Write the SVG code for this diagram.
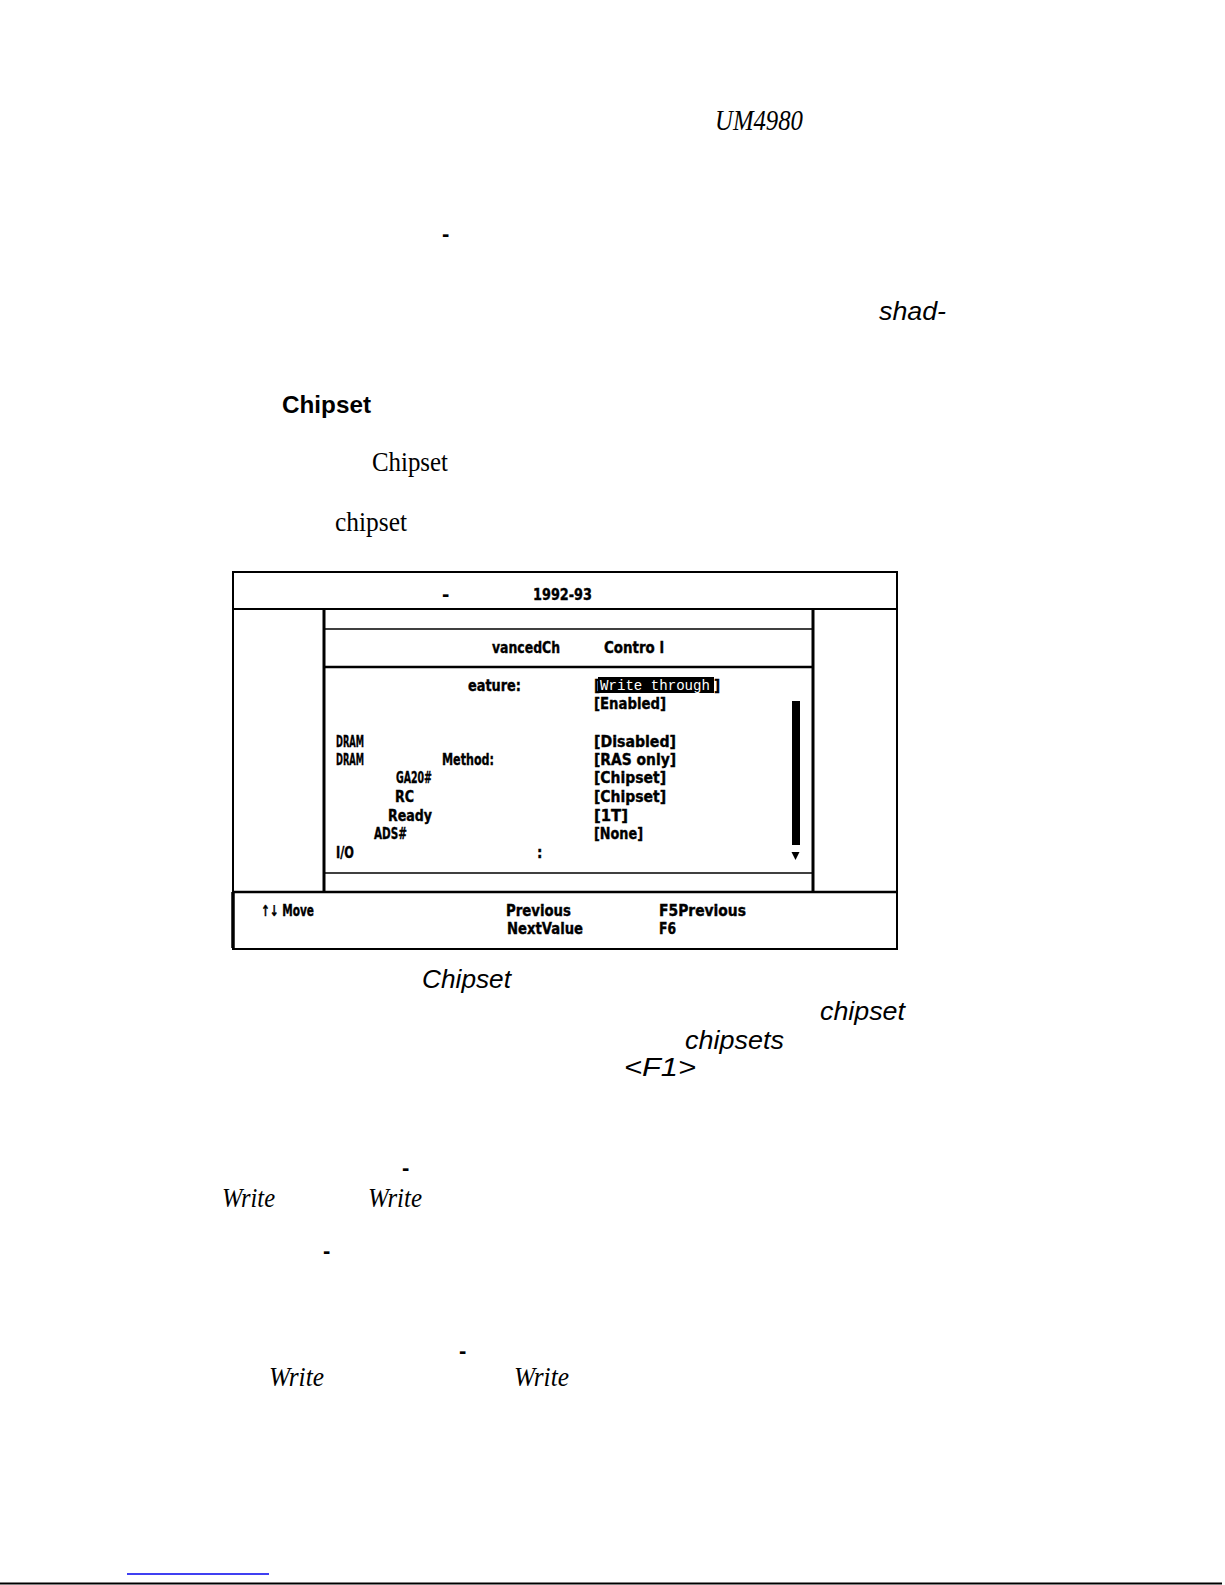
<svg xmlns="http://www.w3.org/2000/svg" width="1225" height="1585" viewBox="0 0 1225 1585">
<style>
.serifI{font-family:"Liberation Serif","DejaVu Serif",serif;font-style:italic;}
.serif{font-family:"Liberation Serif","DejaVu Serif",serif;}
.sansI{font-family:"Liberation Sans","DejaVu Sans",sans-serif;font-style:italic;}
.sansB{font-family:"Liberation Sans","DejaVu Sans",sans-serif;font-weight:bold;}
.dash{font-family:"Liberation Sans",sans-serif;font-weight:bold;font-size:22px;fill:#000;}
.scr{font-family:"DejaVu Sans Condensed","Liberation Sans Narrow","Liberation Sans",sans-serif;font-weight:bold;font-size:15px;fill:#000;stroke:#000;stroke-width:0.35;}
.ln{stroke:#000;fill:none;}
</style>
<rect width="1225" height="1585" fill="#fff"/>

<g id="page-text">
<text class="serifI" x="715" y="130" font-size="30" textLength="88" lengthAdjust="spacingAndGlyphs">UM4980</text>
<text class="dash" x="442" y="241">-</text>
<text class="sansI" x="879" y="320" font-size="26" textLength="67" lengthAdjust="spacingAndGlyphs">shad-</text>
<text class="sansB" x="282" y="413" font-size="24" textLength="89" lengthAdjust="spacingAndGlyphs">Chipset</text>
<text class="serif" x="372" y="471" font-size="28" textLength="76" lengthAdjust="spacingAndGlyphs">Chipset</text>
<text class="serif" x="335" y="531" font-size="28" textLength="72" lengthAdjust="spacingAndGlyphs">chipset</text>
<text class="sansI" x="422" y="988" font-size="25" textLength="89" lengthAdjust="spacingAndGlyphs">Chipset</text>
<text class="sansI" x="820" y="1020" font-size="25" textLength="85" lengthAdjust="spacingAndGlyphs">chipset</text>
<text class="sansI" x="685" y="1049" font-size="25" textLength="99" lengthAdjust="spacingAndGlyphs">chipsets</text>
<text class="sansI" x="624" y="1076" font-size="25" textLength="72" lengthAdjust="spacingAndGlyphs">&lt;F1&gt;</text>
<text class="dash" x="402" y="1175">-</text>
<text class="serifI" x="222" y="1207" font-size="28" textLength="53" lengthAdjust="spacingAndGlyphs">Write</text>
<text class="serifI" x="368" y="1207" font-size="28" textLength="54" lengthAdjust="spacingAndGlyphs">Write</text>
<text class="dash" x="323" y="1258">-</text>
<text class="dash" x="459" y="1358">-</text>
<text class="serifI" x="269" y="1386" font-size="28" textLength="55" lengthAdjust="spacingAndGlyphs">Write</text>
<text class="serifI" x="514" y="1386" font-size="28" textLength="55" lengthAdjust="spacingAndGlyphs">Write</text>
</g>

<g id="screen">
<rect class="ln" x="233" y="572" width="664" height="377" stroke-width="2"/>
<line class="ln" x1="233" y1="609" x2="897" y2="609" stroke-width="2"/>
<line class="ln" x1="324" y1="609" x2="324" y2="892" stroke-width="3"/>
<line class="ln" x1="813" y1="609" x2="813" y2="892" stroke-width="3"/>
<line class="ln" x1="324" y1="629" x2="813" y2="629" stroke-width="1.5"/>
<line class="ln" x1="324" y1="667" x2="813" y2="667" stroke-width="2.5"/>
<line class="ln" x1="324" y1="873" x2="813" y2="873" stroke-width="1.5"/>
<line class="ln" x1="233" y1="892" x2="897" y2="892" stroke-width="2.5"/>
<line class="ln" x1="233" y1="892" x2="233" y2="948" stroke-width="3.5"/>

<text class="dash" x="442" y="601">-</text>
<text class="scr" x="533" y="600" textLength="59" lengthAdjust="spacingAndGlyphs">1992-93</text>
<text class="scr" x="492" y="653" textLength="68" lengthAdjust="spacingAndGlyphs">vancedCh</text>
<text class="scr" x="604" y="653" textLength="60" lengthAdjust="spacingAndGlyphs">Contro l</text>

<text class="scr" x="468" y="691" textLength="53" lengthAdjust="spacingAndGlyphs">eature:</text>
<rect x="598" y="677" width="116" height="16" fill="#000"/>
<text class="scr" x="594" y="691">[</text>
<text x="600" y="690" font-family="Liberation Mono,DejaVu Sans Mono,monospace" font-size="14" fill="#fff" textLength="110" lengthAdjust="spacingAndGlyphs">Write through</text>
<text class="scr" x="714" y="691">]</text>
<text class="scr" x="594" y="709" textLength="72" lengthAdjust="spacingAndGlyphs">[Enabled]</text>

<rect x="792" y="701" width="8" height="144" fill="#000"/>
<path d="M791.5 852 L799.5 852 L795.5 860 Z" fill="#000"/>

<text class="scr" x="336" y="747" textLength="28" lengthAdjust="spacingAndGlyphs">DRAM</text>
<text class="scr" x="594" y="747" textLength="82" lengthAdjust="spacingAndGlyphs">[Disabled]</text>
<text class="scr" x="336" y="765" textLength="28" lengthAdjust="spacingAndGlyphs">DRAM</text>
<text class="scr" x="442" y="765" textLength="52" lengthAdjust="spacingAndGlyphs">Method:</text>
<text class="scr" x="594" y="765" textLength="82" lengthAdjust="spacingAndGlyphs">[RAS only]</text>
<text class="scr" x="396" y="783" textLength="36" lengthAdjust="spacingAndGlyphs">GA20#</text>
<text class="scr" x="594" y="783" textLength="72" lengthAdjust="spacingAndGlyphs">[Chipset]</text>
<text class="scr" x="395" y="802" textLength="19" lengthAdjust="spacingAndGlyphs">RC</text>
<text class="scr" x="594" y="802" textLength="72" lengthAdjust="spacingAndGlyphs">[Chipset]</text>
<text class="scr" x="388" y="821" textLength="44" lengthAdjust="spacingAndGlyphs">Ready</text>
<text class="scr" x="594" y="821" textLength="34" lengthAdjust="spacingAndGlyphs">[1T]</text>
<text class="scr" x="374" y="839" textLength="33" lengthAdjust="spacingAndGlyphs">ADS#</text>
<text class="scr" x="594" y="839" textLength="49" lengthAdjust="spacingAndGlyphs">[None]</text>
<text class="scr" x="336" y="858" textLength="18" lengthAdjust="spacingAndGlyphs">I/O</text>
<text class="scr" x="537" y="858">:</text>

<text class="scr" x="261" y="916" textLength="53" lengthAdjust="spacingAndGlyphs">↑↓ Move</text>
<text class="scr" x="506" y="916" textLength="65" lengthAdjust="spacingAndGlyphs">Previous</text>
<text class="scr" x="659" y="916" textLength="87" lengthAdjust="spacingAndGlyphs">F5Previous</text>
<text class="scr" x="507" y="934" textLength="76" lengthAdjust="spacingAndGlyphs">NextValue</text>
<text class="scr" x="659" y="934" textLength="17" lengthAdjust="spacingAndGlyphs">F6</text>
</g>

<g id="footer">
<line x1="127" y1="1574" x2="269" y2="1574" stroke="#0000ee" stroke-width="1.5"/>
<line x1="0" y1="1583.5" x2="1222" y2="1583.5" stroke="#000" stroke-width="2"/>
</g>
</svg>
